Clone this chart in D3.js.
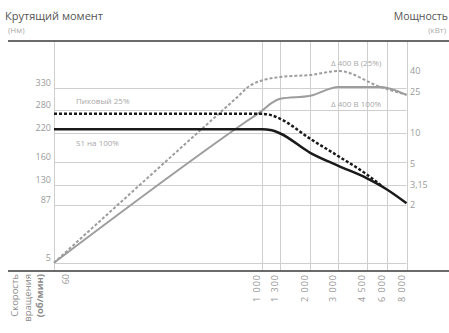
<!DOCTYPE html>
<html>
<head>
<meta charset="utf-8">
<script src="https://cdn.jsdelivr.net/npm/d3@7"></script>
<style>
  html, body { margin: 0; padding: 0; background: #fff; }
  svg { display: block; }
  text { font-family: "Open Sans", "DejaVu Sans", sans-serif; }
</style>
</head>
<body>
<svg id="chart" width="449" height="333"></svg>
<script>
// Speed axis (rpm)
const speedTicks = [1000, 1300, 2000, 3000, 4500, 6000, 8000];
const speedTickLabels = ["1 000", "1 300", "2 000", "3 000", "4 500", "6 000", "8 000"];
const speedStartLabel = ["60"];

// Torque axis (Nm)
const torqueTicks = [5, 87, 130, 160, 220, 280, 330];
// Power axis (kW)
const powerTicks = [2, 3.15, 5, 10, 25, 40];
const powerTickLabels = ["2", "3,15", "5", "10", "25", "40"];

// Torque, peak duty (dotted)
const torquePeakSpeed = [50, 1000, 1150, 1300, 2000, 3000, 4500, 5600];
const torquePeakValue = [270, 270, 266, 257, 208, 172, 144, 128];
// Torque, continuous duty (solid)
const torqueContSpeed = [50, 1000, 1150, 1300, 2000, 3000, 4500, 6000, 8000];
const torqueContValue = [230, 230, 227, 219, 179, 155, 139, 121, 91];

// Power, peak duty (dotted)
const powerPeakSpeed = [50, 700, 850, 1300, 2000, 3000, 5500, 8000];
const powerPeakValue = [0.55, 22.3, 29.2, 35, 36.6, 40, 28, 23.5];
// Power, continuous duty (solid)
const powerContSpeed = [50, 800, 1000, 1150, 1300, 2000, 3000, 5500, 8000];
const powerContValue = [0.55, 13, 16.5, 19.6, 21.5, 23, 28, 28, 23.5];

const svg = d3.select("#chart");

const plotTop = 41, plotBottom = 271, plotLeft = 54;

const x = d3.scaleLog().domain([50, 8000]).range([54, 406.5]);
const yT = d3.scaleLinear().domain(torqueTicks).range([263, 205, 185, 162, 133, 110, 88]);
const yP = d3.scaleLog().domain([2, 40]).range([205, 71]);

const plotRight = x(8000);

// Grid
const grid = svg.append("g").attr("stroke", "#cfcfcf").attr("stroke-width", 1);
grid.selectAll("line.h").data(torqueTicks).join("line")
  .attr("x1", plotLeft).attr("x2", plotRight)
  .attr("y1", d => Math.round(yT(d)) + 0.5).attr("y2", d => Math.round(yT(d)) + 0.5);
grid.selectAll("line.v").data(speedTicks).join("line")
  .attr("y1", plotTop).attr("y2", plotBottom)
  .attr("x1", d => Math.round(x(d)) + 0.5).attr("x2", d => Math.round(x(d)) + 0.5);
grid.append("line").attr("x1", plotLeft + 0.5).attr("x2", plotLeft + 0.5)
  .attr("y1", plotTop).attr("y2", plotBottom);

// Frame lines
svg.append("line").attr("x1", 8).attr("x2", 449).attr("y1", plotTop).attr("y2", plotTop)
  .attr("stroke", "#3a3a3a").attr("stroke-width", 1.5);
svg.append("line").attr("x1", 8).attr("x2", 449).attr("y1", plotBottom).attr("y2", plotBottom)
  .attr("stroke", "#3a3a3a").attr("stroke-width", 1.5);

// Axis labels
svg.append("g").selectAll("text").data(torqueTicks).join("text")
  .attr("x", 51).attr("y", d => yT(d) - 2)
  .attr("text-anchor", "end").attr("font-size", 9).attr("fill", "#9a9a9a")
  .text(d => d);

svg.append("g").selectAll("text").data(powerTicks).join("text")
  .attr("x", 410).attr("y", d => yP(d) + 3)
  .attr("font-size", 9).attr("fill", "#9a9a9a")
  .text((d, i) => powerTickLabels[i]);

svg.append("g").selectAll("text").data(speedTicks).join("text")
  .attr("transform", d => `translate(${x(d) - 2},274) rotate(-90)`)
  .attr("text-anchor", "end").attr("font-size", 9).attr("letter-spacing", 1)
  .attr("fill", "#9a9a9a")
  .text((d, i) => speedTickLabels[i]);

svg.append("g").selectAll("text").data(speedStartLabel).join("text")
  .attr("transform", d => `translate(${x(+d) + 2},274) rotate(-90)`)
  .attr("text-anchor", "end").attr("font-size", 9).attr("fill", "#9a9a9a")
  .text(d => d);

// Speed axis caption
const caption = ["Скорость", "вращения", "(об/мин)"];
svg.append("g").selectAll("text").data(caption).join("text")
  .attr("transform", (d, i) => `translate(${18 + i * 12.5},274) rotate(-90)`)
  .attr("text-anchor", "end").attr("font-size", 9.5).attr("fill", "#8a8a8a")
  .attr("font-weight", (d, i) => i === 2 ? "bold" : "normal")
  .text(d => d);

// Titles
svg.append("text").attr("x", 5).attr("y", 20).attr("font-size", 11).attr("fill", "#555")
  .text("Крутящий момент");
svg.append("text").attr("x", 8).attr("y", 33).attr("font-size", 8).attr("fill", "#aaa")
  .text("(Нм)");
svg.append("text").attr("x", 448).attr("y", 20).attr("text-anchor", "end")
  .attr("font-size", 10.5).attr("fill", "#555")
  .text("Мощность");
svg.append("text").attr("x", 446).attr("y", 33).attr("text-anchor", "end")
  .attr("font-size", 8).attr("fill", "#aaa")
  .text("(кВт)");

// Curves
const lineT = d3.line().x(d => x(d[0])).y(d => yT(d[1])).curve(d3.curveMonotoneX);
const lineP = d3.line().x(d => x(d[0])).y(d => yP(d[1])).curve(d3.curveMonotoneX);
const zip = (a, b) => a.map((v, i) => [v, b[i]]);

svg.append("path").attr("d", lineP(zip(powerContSpeed, powerContValue)))
  .attr("fill", "none").attr("stroke", "#9d9d9d").attr("stroke-width", 2);
svg.append("path").attr("d", lineP(zip(powerPeakSpeed, powerPeakValue)))
  .attr("fill", "none").attr("stroke", "#9d9d9d").attr("stroke-width", 2)
  .attr("stroke-dasharray", "3,2");
svg.append("path").attr("d", lineT(zip(torqueContSpeed, torqueContValue)))
  .attr("fill", "none").attr("stroke", "#1a1a1a").attr("stroke-width", 2.5);
svg.append("path").attr("d", lineT(zip(torquePeakSpeed, torquePeakValue)))
  .attr("fill", "none").attr("stroke", "#1a1a1a").attr("stroke-width", 2.5)
  .attr("stroke-dasharray", "3,2");

// Curve captions
const notes = svg.append("g").attr("font-size", 8).attr("fill", "#a8a8a8");
notes.append("text").attr("x", 76).attr("y", 104).text("Пиковый 25%");
notes.append("text").attr("x", 76).attr("y", 146).text("S1 на 100%");
notes.append("text").attr("x", 331).attr("y", 66).text("Δ 400 В (25%)");
notes.append("text").attr("x", 331).attr("y", 107).text("Δ 400 В 100%");
</script>
</body>
</html>
